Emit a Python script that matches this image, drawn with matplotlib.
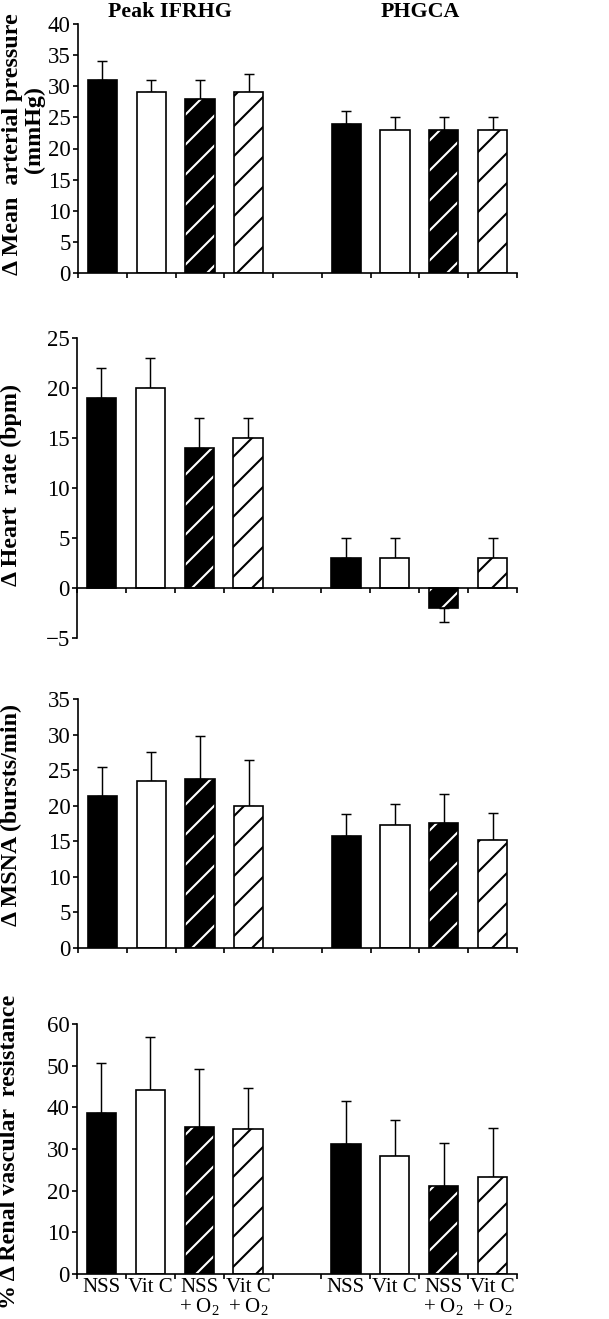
import matplotlib
matplotlib.use("Agg")
import matplotlib.pyplot as plt
import numpy as np

W, H = 609, 1319
DPI = 180
S = 150 / DPI  # keeps sizes as tuned in pixels

plt.rcParams["font.family"] = ["Liberation Serif", "DejaVu Serif"]
plt.rcParams["mathtext.fontset"] = "custom"
plt.rcParams["mathtext.rm"] = "Liberation Serif"
plt.rcParams["mathtext.default"] = "regular"
plt.rcParams["hatch.linewidth"] = 1.0 * S

conditions = ["NSS", "Vit C", "NSS\n+ O$_2$", "Vit C\n+ O$_2$"]
phases = ["Peak IFRHG", "PHGCA"]

# mean and SEM, order: Peak IFRHG (4) then PHGCA (4)
map_mean = [31, 29, 28, 29, 24, 23, 23, 23]
map_err = [3, 2, 3, 3, 2, 2, 2, 2]
hr_mean = [19, 20, 14, 15, 3, 3, -2, 3]
hr_err = [3, 3, 3, 2, 2, 2, 1.4, 2]
msna_mean = [21.4, 23.5, 23.8, 19.9, 15.7, 17.3, 17.6, 15.2]
msna_err = [4.1, 4.0, 6.0, 6.5, 3.1, 3.0, 4.0, 3.8]
rvr_mean = [38.7, 44.1, 35.4, 34.7, 31.2, 28.4, 21.1, 23.2]
rvr_err = [11.9, 12.8, 13.7, 9.9, 10.3, 8.5, 10.4, 11.9]

panels = [
    (map_mean, map_err, (0, 40), 5),
    (hr_mean, hr_err, (-5, 25), 5),
    (msna_mean, msna_err, (0, 35), 5),
    (rvr_mean, rvr_err, (0, 60), 10),
]

fig = plt.figure(figsize=(W / DPI, H / DPI), dpi=DPI)

# axes boxes in pixels: left, right, top, bottom
boxes = [(78, 517, 24, 273), (77, 517, 338, 638), (78, 517, 699, 948), (77, 517, 1024, 1274)]

slots = [0, 1, 2, 3, 5, 6, 7, 8]
styles = [("black", None), ("white", None), ("black", "//"), ("white", "//")]

for k, ((mean, err, ylim, step), (l, r, t, b)) in enumerate(zip(panels, boxes)):
    ax = fig.add_axes([l / W, 1 - b / H, (r - l) / W, (b - t) / H])
    x = np.array(slots) + 0.5
    mean = np.array(mean, dtype=float)
    err = np.array(err, dtype=float)
    lower = np.where(mean < 0, err, 0)
    upper = np.where(mean < 0, 0, err)
    ax.errorbar(x, mean, yerr=[lower, upper], fmt="none", ecolor="black",
                elinewidth=0.7 * S, capsize=2.2 * S, capthick=0.7 * S, zorder=1)
    for i, (xi, yi) in enumerate(zip(x, mean)):
        fc, hatch = styles[i % 4]
        hc = "white" if fc == "black" else "black"
        ax.bar(xi, yi, width=0.6, color=fc, edgecolor=hc, hatch=hatch, linewidth=0, zorder=2)
        ax.bar(xi, yi, width=0.6, fill=False, edgecolor="black", linewidth=0.8 * S, zorder=3)

    ax.set_xlim(0, 9)
    ax.set_ylim(*ylim)
    ticks = np.arange(ylim[0], ylim[1] + 0.1, step)
    ax.set_yticks(ticks)
    ax.set_yticklabels([str(int(v)) if v >= 0 else "\u2212" + str(int(-v)) for v in ticks])
    ax.spines["top"].set_visible(False)
    ax.spines["right"].set_visible(False)
    ax.spines["left"].set_linewidth(0.8 * S)
    ax.spines["bottom"].set_linewidth(0.8 * S)
    ax.spines["bottom"].set_position(("data", 0))
    ax.set_xticks(np.arange(0, 10))
    ax.set_xticklabels([])
    ax.tick_params(axis="x", which="major", direction="out", length=2.5 * S, width=0.8 * S)
    ax.tick_params(axis="y", direction="out", length=2.5 * S, width=0.8 * S,
                   labelsize=11 * S, pad=1 * S)
    if k == 3:
        ax.set_xticks(x, minor=True)
        ax.set_xticklabels(conditions * 2, minor=True, fontsize=10 * S, linespacing=0.9,
                           va="top")
        ax.tick_params(axis="x", which="minor", length=0, pad=2 * S)

fig.text(170 / W, 1 - 12 / H, phases[0], ha="center", va="center", fontsize=10.5 * S, fontweight="bold")
fig.text(420 / W, 1 - 12 / H, phases[1], ha="center", va="center", fontsize=10.5 * S, fontweight="bold")

ylab = dict(rotation=90, ha="center", va="center", fontsize=11.5 * S, fontweight="bold")
fig.text(13 / W, 1 - 144 / H, "\u0394 Mean  arterial pressure", **ylab)
fig.text(34 / W, 1 - 130 / H, "(mmHg)", **ylab)
fig.text(11 / W, 1 - 485 / H, "\u0394 Heart  rate (bpm)", **ylab)
fig.text(11 / W, 1 - 815 / H, "\u0394 MSNA (bursts/min)", **ylab)
fig.text(10 / W, 1 - 1152 / H, "% \u0394 Renal vascular  resistance", **ylab)

fig.savefig("out.png", dpi=DPI)
